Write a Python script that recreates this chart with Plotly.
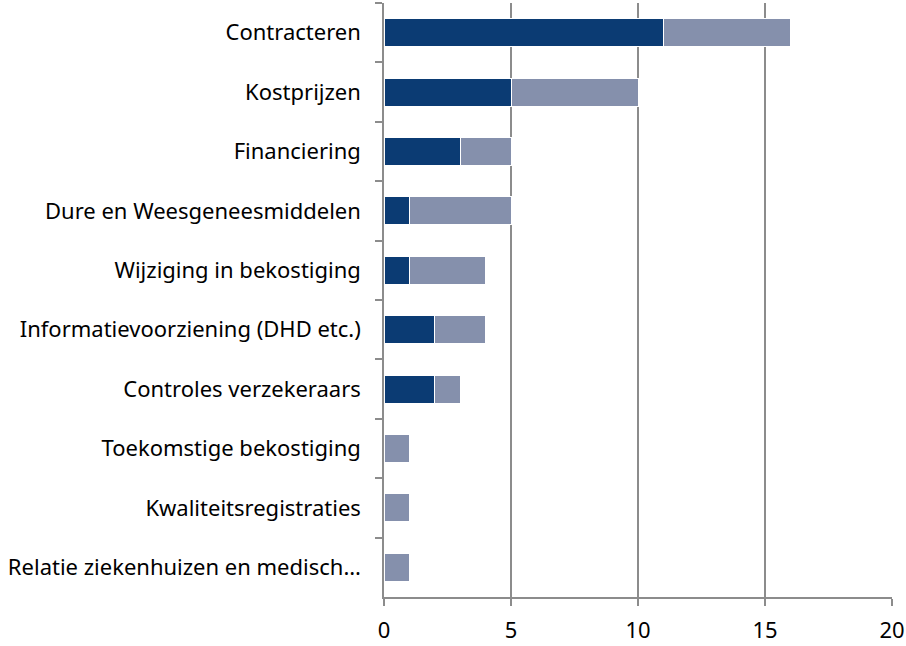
import plotly.graph_objects as go

categories = [
    "Contracteren",
    "Kostprijzen",
    "Financiering",
    "Dure en Weesgeneesmiddelen",
    "Wijziging in bekostiging",
    "Informatievoorziening (DHD etc.)",
    "Controles verzekeraars",
    "Toekomstige bekostiging",
    "Kwaliteitsregistraties",
    "Relatie ziekenhuizen en medisch…",
]
series_dark = [11, 5, 3, 1, 1, 2, 2, 0, 0, 0]
series_light = [5, 5, 2, 4, 3, 2, 1, 1, 1, 1]
x_ticks = [0, 5, 10, 15, 20]

fig = go.Figure()
fig.add_trace(go.Bar(y=categories, x=series_dark, orientation="h", name="Serie 1",
                     marker=dict(color="#0B3B73", line=dict(color="white", width=1))))
fig.add_trace(go.Bar(y=categories, x=series_light, orientation="h", name="Serie 2",
                     marker=dict(color="#8590AC", line=dict(color="white", width=1))))

fig.update_layout(
    barmode="stack",
    bargap=0.53,
    width=906, height=646,
    margin=dict(l=384, r=14, t=3, b=49, autoexpand=False),
    plot_bgcolor="white", paper_bgcolor="white",
    showlegend=False,
    font=dict(family="Noto Sans, sans-serif", color="#000000", size=22),
)
fig.update_xaxes(
    range=[0, 20], tickvals=x_ticks, showgrid=True, gridcolor="#8C8C8C", gridwidth=1.5,
    showline=True, linecolor="#8C8C8C", linewidth=1.5, ticks="outside", ticklen=7,
    tickcolor="#8C8C8C", tickwidth=1.5, tickfont=dict(size=22), zeroline=False,
    automargin=False, ticklabelstandoff=6,
)
fig.update_yaxes(
    autorange="reversed", showline=True, linecolor="#8C8C8C", linewidth=1.5,
    ticks="outside", ticklen=7, tickcolor="#8C8C8C", tickwidth=1.5, tickson="boundaries",
    showgrid=False, ticklabelstandoff=17, tickfont=dict(size=22), automargin=False,
)

fig.write_html(
    "out.html",
    config={"displayModeBar": False},
    post_script="document.body.style.margin='0';document.body.style.overflow='hidden';",
)
